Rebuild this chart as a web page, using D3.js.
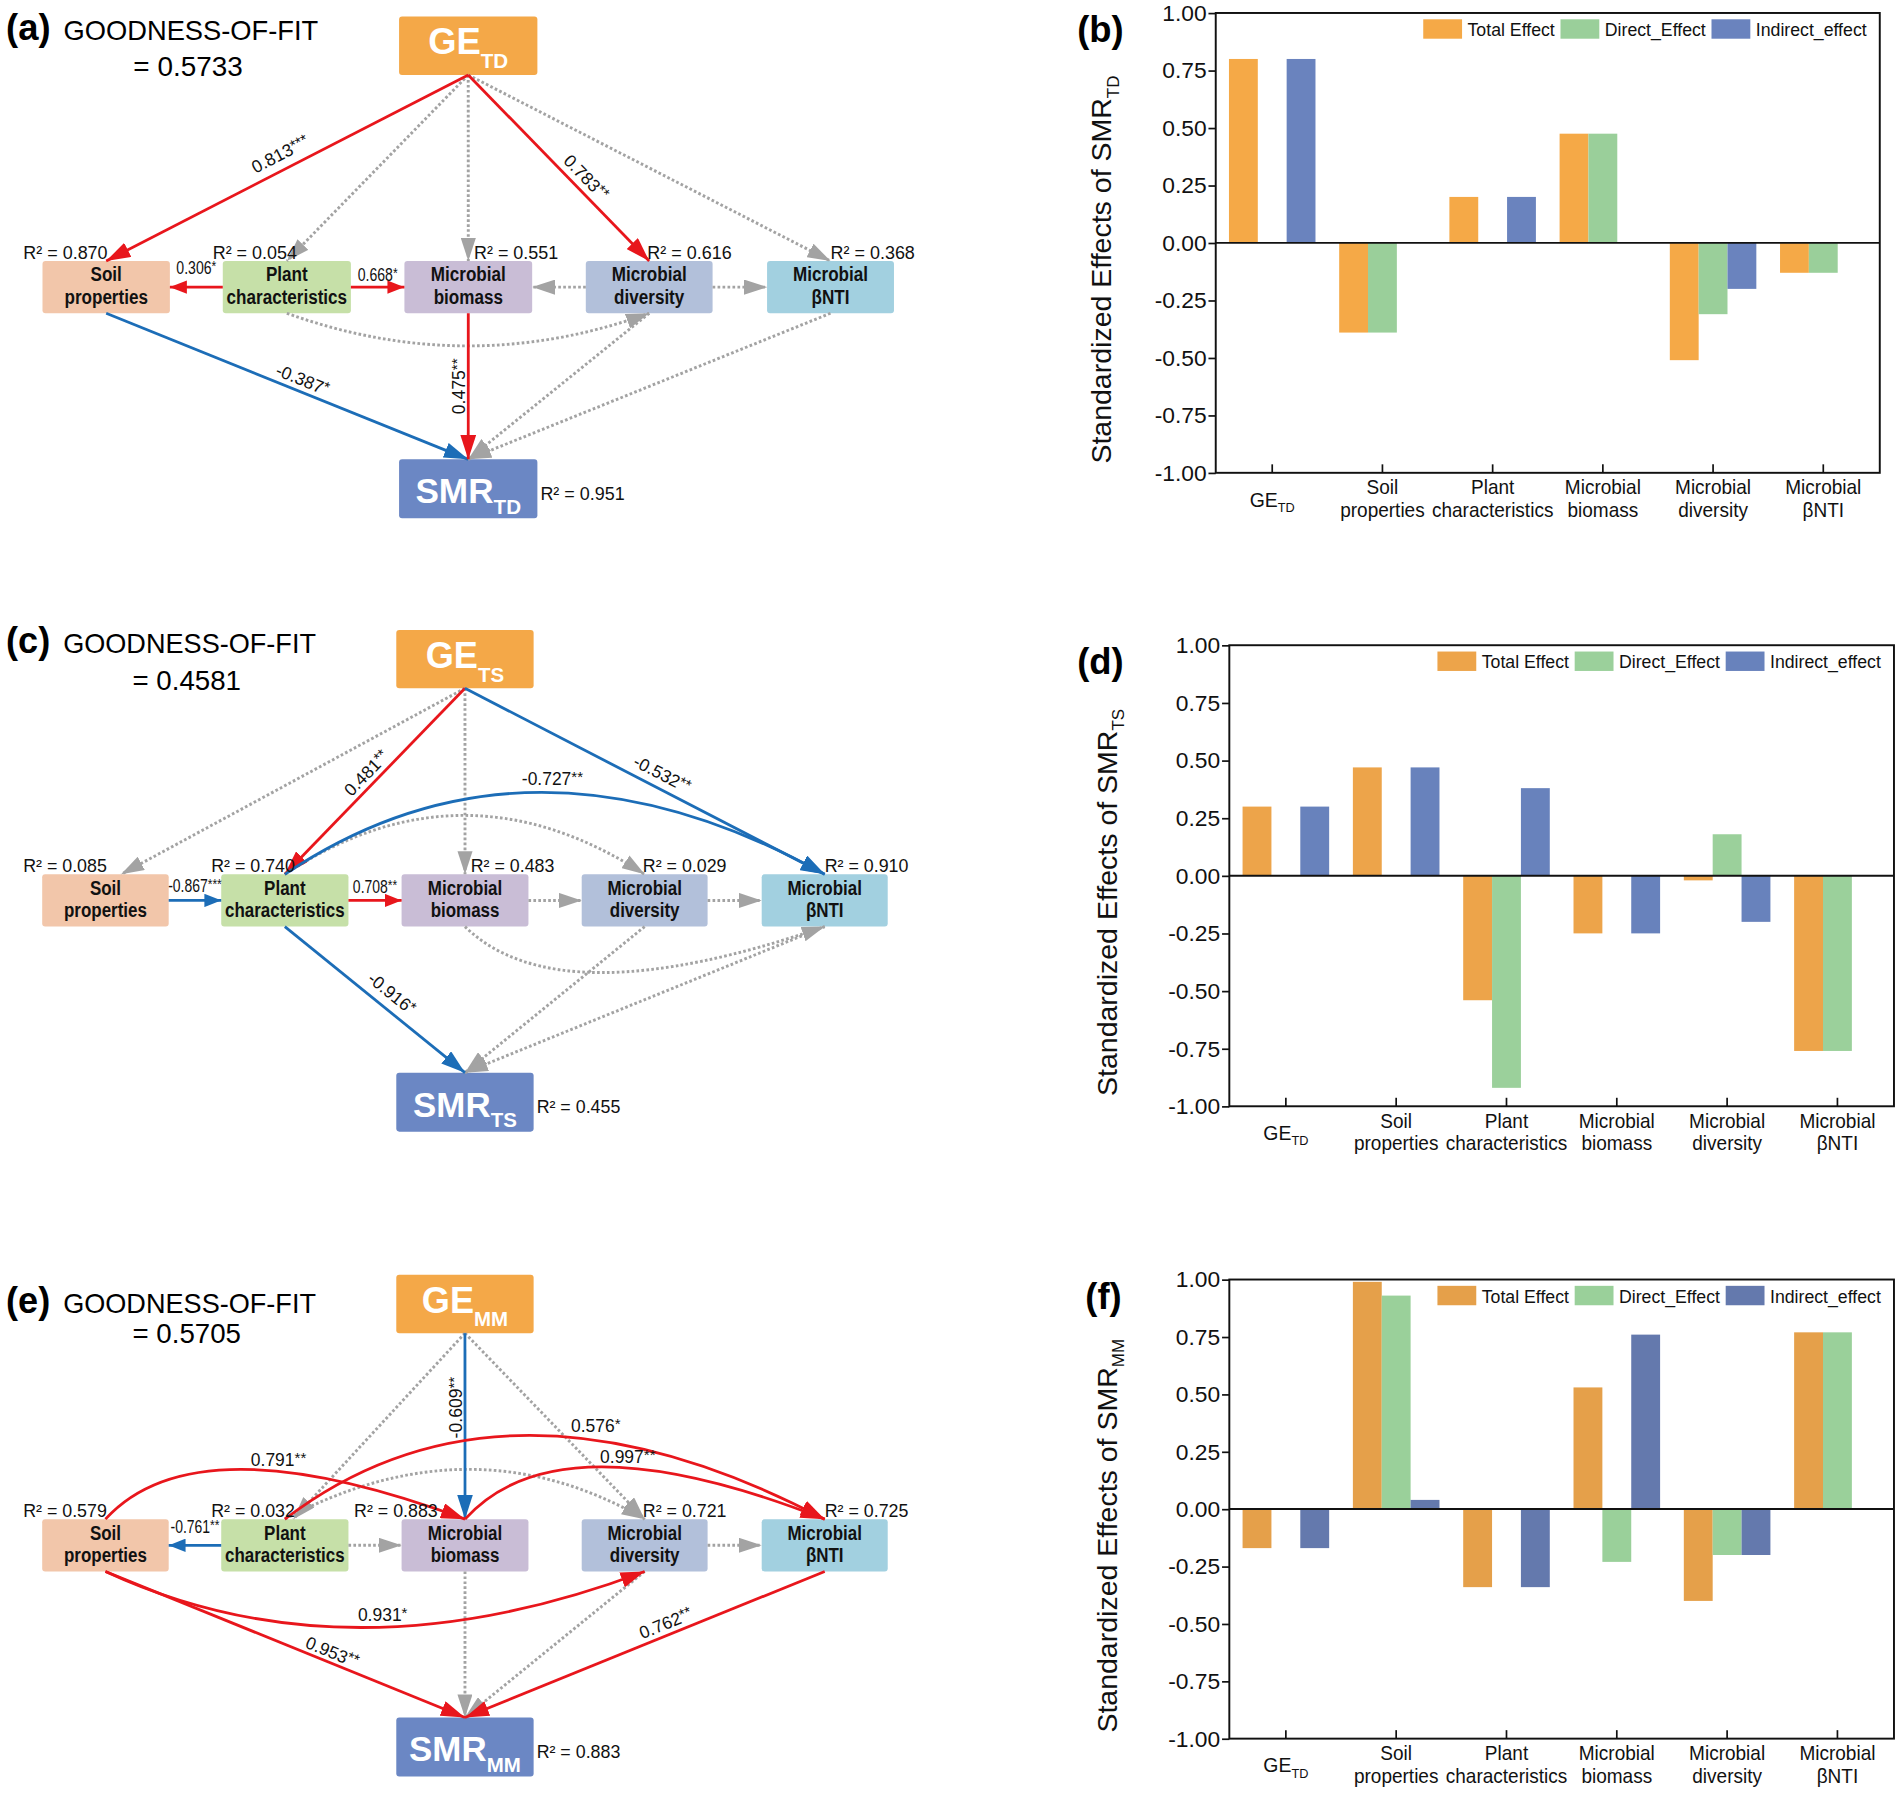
<!DOCTYPE html>
<html>
<head>
<meta charset="utf-8">
<title>SEM paths and standardized effects on SMR</title>
<script src="https://cdn.jsdelivr.net/npm/d3@7"></script>
<style>
  body { margin: 0; background: #fff; }
</style>
</head>
<body>
<script>
// ---------- bar chart data ----------
const categories = ["GE_TD", "Soil properties", "Plant characteristics", "Microbial biomass", "Microbial diversity", "Microbial βNTI"];
const seriesNames = ["Total Effect", "Direct_Effect", "Indirect_effect"];
const yTicks = [1.00, 0.75, 0.50, 0.25, 0.00, -0.25, -0.50, -0.75, -1.00];

// (b) effects on SMR_TD
const totalTD    = [0.80, -0.39, 0.20, 0.475, -0.51, -0.13];
const directTD   = [0, -0.39, 0, 0.475, -0.31, -0.13];
const indirectTD = [0.80, 0, 0.20, 0, -0.20, 0];
// (d) effects on SMR_TS
const totalTS    = [0.30, 0.47, -0.54, -0.25, -0.02, -0.76];
const directTS   = [0, 0, -0.92, 0, 0.18, -0.76];
const indirectTS = [0.30, 0.47, 0.38, -0.25, -0.20, 0];
// (f) effects on SMR_MM
const totalMM    = [-0.17, 0.99, -0.34, 0.53, -0.40, 0.77];
const directMM   = [0, 0.93, 0, -0.23, -0.20, 0.77];
const indirectMM = [-0.17, 0.04, -0.34, 0.76, -0.20, 0];

// ---------- SEM data ----------
const semNodes  = ["GE", "Soil", "Plant", "Bio", "Div", "NTI", "SMR"];
const nodeNames = ["GE", "Soil properties", "Plant characteristics", "Microbial biomass", "Microbial diversity", "Microbial βNTI", "SMR"];
const models = ["TD", "TS", "MM"];
const goodnessOfFit = [0.5733, 0.4581, 0.5705];
const r2TD = [null, 0.870, 0.054, 0.551, 0.616, 0.368, 0.951];
const r2TS = [null, 0.085, 0.740, 0.483, 0.029, 0.910, 0.455];
const r2MM = [null, 0.579, 0.032, 0.883, 0.721, 0.725, 0.883];

// from, to, standardized path coefficient (null = not significant), significance
const pathsTD = [
  ["GE", "Soil", 0.813, "***"], ["GE", "Plant", null], ["GE", "Bio", null],
  ["GE", "Div", 0.783, "**"], ["GE", "NTI", null],
  ["Plant", "Soil", 0.306, "*"], ["Plant", "Bio", 0.668, "*"],
  ["Div", "Bio", null], ["Div", "NTI", null], ["Plant", "Div", null],
  ["Soil", "SMR", -0.387, "*"], ["Bio", "SMR", 0.475, "**"],
  ["Div", "SMR", null], ["NTI", "SMR", null]
];
const pathsTS = [
  ["GE", "Soil", null], ["GE", "Plant", 0.481, "**"], ["GE", "Bio", null],
  ["GE", "NTI", -0.532, "**"], ["Plant", "NTI", -0.727, "**"], ["Plant", "Div", null],
  ["Soil", "Plant", -0.867, "***"], ["Plant", "Bio", 0.708, "**"],
  ["Bio", "Div", null], ["Div", "NTI", null],
  ["Plant", "SMR", -0.916, "*"], ["Bio", "NTI", null],
  ["Div", "SMR", null], ["NTI", "SMR", null]
];
const pathsMM = [
  ["GE", "Plant", null], ["GE", "Bio", -0.609, "**"], ["GE", "Div", null],
  ["Soil", "Bio", 0.791, "**"], ["Plant", "NTI", 0.576, "*"], ["Bio", "NTI", 0.997, "**"],
  ["Plant", "Div", null], ["Plant", "Soil", -0.761, "**"], ["Plant", "Bio", null],
  ["Div", "NTI", null], ["Soil", "Div", 0.931, "*"], ["Soil", "SMR", 0.953, "**"],
  ["Bio", "SMR", null], ["Div", "SMR", null], ["NTI", "SMR", 0.762, "**"]
];

// ---------- layout / style ----------
const FONT = "'Liberation Sans', Arial, Helvetica, sans-serif";
const RED = "#E8161C", BLUE = "#1C6DB7", GRAY = "#A3A3A3";
const VW = 1567.6, VH = 1481.1;

const svg = d3.select("body").append("svg")
  .attr("width", 1902).attr("height", 1797)
  .attr("viewBox", `0 0 ${VW} ${VH}`)
  .style("font-family", FONT)
  .style("background", "#fff");

// arrow heads
const defs = svg.append("defs");
[["red", RED], ["blue", BLUE], ["gray", GRAY]].forEach(([nm, col]) => {
  ["L", "S"].forEach(sz => {
    const [len, wid] = nm === "gray" ? [19, 12.5] : (sz === "L" ? [20, 13] : [14, 11]);
    defs.append("marker")
      .attr("id", `m-${nm}-${sz}`)
      .attr("markerUnits", "userSpaceOnUse")
      .attr("markerWidth", len).attr("markerHeight", wid)
      .attr("refX", len).attr("refY", wid / 2)
      .attr("orient", "auto")
      .append("path")
      .attr("d", `M0,0L${len},${wid / 2}L0,${wid}Z`)
      .attr("fill", col);
  });
});

// boxes of the path diagram (panel a coordinates)
const nodeBox = {
  GE:    { x: 328.9, y: 13.7,  w: 114,   h: 48.1 },
  Soil:  { x: 35,    y: 215.1, w: 105,   h: 43.1 },
  Plant: { x: 183.6, y: 215.1, w: 105.6, h: 43.1 },
  Bio:   { x: 333.3, y: 215.1, w: 105.3, h: 43.1 },
  Div:   { x: 482.8, y: 215.1, w: 104.5, h: 43.1 },
  NTI:   { x: 632.2, y: 215.1, w: 104.6, h: 43.1 },
  SMR:   { x: 328.9, y: 378.6, w: 114,   h: 48.6 }
};
const nodeFill = {
  GE: "#F4A848", Soil: "#F2C6AA", Plant: "#C6E0A8", Bio: "#C9BDD6",
  Div: "#B2C0DA", NTI: "#A2D0E0", SMR: "#6B87C4"
};
const rowNodes = ["Soil", "Plant", "Bio", "Div", "NTI"];

// curvature and label placement of the paths, per panel
const shapeTD = {
  "GE>Soil":    { lab: [0.5, 13] },
  "GE>Div":     { lab: [0.6, 11] },
  "Plant>Soil": { lab: [0.5, 16] },
  "Plant>Bio":  { lab: [0.5, 10.5] },
  "Plant>Div":  { s: "b", e: "b", c: [385.8, 312] },
  "Soil>SMR":   { lab: [0.53, 10] },
  "Bio>SMR":    { lab: [0.5, 8] }
};
const shapeTS = {
  "GE>Soil":    { ex: 13 },
  "GE>Plant":   { lab: [0.5, 10] },
  "GE>NTI":     { lab: [0.53, 12] },
  "Plant>NTI":  { s: "t", e: "t", c: [438.6, 80], lab: [0.52, 11], flat: true },
  "Plant>Div":  { s: "t", e: "t", c: [384.5, 118] },
  "Soil>Plant": { lab: [0.5, 12.5] },
  "Plant>Bio":  { lab: [0.5, 11] },
  "Plant>SMR":  { lab: [0.54, 13] },
  "Bio>NTI":    { s: "b", e: "b", c: [463.7, 334] }
};
const shapeMM = {
  "GE>Plant":   { ex: 7 },
  "GE>Bio":     { lab: [0.4, 8] },
  "Soil>Bio":   { s: "t", e: "t", c: [163, 133], lab: [0.6, 10], flat: true },
  "Plant>NTI":  { s: "t", e: "t", c: [418.6, 77], lab: [0.62, 12], flat: true },
  "Bio>NTI":    { s: "t", e: "t", c: [463.7, 129], lab: [0.57, 9], flat: true },
  "Plant>Div":  { s: "t", e: "t", c: [392, 133] },
  "Plant>Soil": { lab: [0.5, 15] },
  "Soil>Div":   { s: "b", e: "b", c: [288, 350.6], lab: [0.54, 10], flat: true },
  "Soil>SMR":   { lab: [0.62, 9] },
  "NTI>SMR":    { lab: [0.43, 10] }
};

const semPanels = [
  { tag: "(a)", m: 0, dy: 0,     sx: 1,     r2: r2TD, paths: pathsTD, shape: shapeTD, tY: [33, 63] },
  { tag: "(c)", m: 1, dy: 505.5, sx: 0.993, r2: r2TS, paths: pathsTS, shape: shapeTS, tY: [33, 63] },
  { tag: "(e)", m: 2, dy: 1037,  sx: 0.993, r2: r2MM, paths: pathsMM, shape: shapeMM, tY: [45, 70] }
];

const barPanels = [
  { tag: "(b)", tagX: 887.8, x0: 1002,   y0: 10.7,   w: 547.3, h: 379,   sub: "TD", titleX: 916,
    series: [totalTD, directTD, indirectTD], colors: ["#F5A947", "#9ACF9A", "#6A83BE"] },
  { tag: "(d)", tagX: 887.8, x0: 1013.2, y0: 531.8,  w: 547.8, h: 380,   sub: "TS", titleX: 920.5,
    series: [totalTS, directTS, indirectTS], colors: ["#EDA44A", "#9BD09B", "#6882BC"] },
  { tag: "(f)", tagX: 894.5, x0: 1013.2, y0: 1054.6, w: 547.8, h: 378.4, sub: "MM", titleX: 920.5,
    series: [totalMM, directMM, indirectMM], colors: ["#E5A04A", "#9AD09A", "#6479AD"] }
];

const fmtCoef = v => (v < 0 ? "-" : "") + Math.abs(v).toFixed(3);

function anchor(key, side, ex) {
  const b = nodeBox[key];
  const off = ex || 0;
  if (side === "t") return [b.x + b.w / 2 + off, b.y];
  if (side === "b") return [b.x + b.w / 2 + off, b.y + b.h];
  if (side === "l") return [b.x, b.y + b.h / 2];
  return [b.x + b.w, b.y + b.h / 2];
}

// ---------- path diagrams ----------
function drawSEM(p) {
  const g = svg.append("g").attr("transform", `translate(0,${p.dy}) scale(${p.sx},1)`);
  const boxLayer = g.append("g");
  const edgeLayer = g.append("g");
  const textLayer = g.append("g");
  const sub = models[p.m];

  // title
  textLayer.append("text").attr("x", 5).attr("y", p.tY[0])
    .attr("font-size", 30).attr("font-weight", "bold").text(p.tag);
  textLayer.append("text").attr("x", 52.4).attr("y", p.tY[0])
    .attr("font-size", 22.5).text("GOODNESS-OF-FIT");
  textLayer.append("text").attr("x", 109.9).attr("y", p.tY[1])
    .attr("font-size", 23).text("= " + goodnessOfFit[p.m].toFixed(4));

  // boxes
  semNodes.forEach((n, i) => {
    const b = nodeBox[n];
    boxLayer.append("rect")
      .attr("x", b.x).attr("y", b.y).attr("width", b.w).attr("height", b.h)
      .attr("rx", 2.5).attr("fill", nodeFill[n]);
    if (n === "GE" || n === "SMR") {
      const big = n === "GE" ? [30, 31.1, 11.5] : [29, 36.2, 8.8];
      const t = boxLayer.append("text")
        .attr("x", b.x + b.w / 2).attr("y", b.y + big[1])
        .attr("text-anchor", "middle").attr("fill", "#fff").attr("font-weight", "bold")
        .attr("font-size", big[0]).text(nodeNames[i]);
      t.append("tspan").attr("font-size", 17).attr("dy", big[2]).text(sub);
    } else {
      nodeNames[i].split(" ").forEach((line, li) => {
        boxLayer.append("text")
          .attr("transform", `translate(${b.x + b.w / 2},${b.y + 16.8 + li * 18.6}) scale(0.88,1)`)
          .attr("text-anchor", "middle").attr("font-weight", "bold")
          .attr("font-size", 16).attr("fill", "#111").text(line);
      });
    }
    // R2
    const v = p.r2[i];
    if (v == null) return;
    let x, y = b.y - 2, anc = "end";
    if (n === "Soil") { x = b.x - 15.8; anc = "start"; }
    else if (n === "Plant") { x = b.x - 8.3; anc = "start"; }
    else if (n === "Bio") { x = p.m === 2 ? b.x + 30 : b.x + b.w + 21.5; }
    else if (n === "Div") { x = b.x + b.w + 15.7; }
    else if (n === "NTI") { x = b.x + b.w + 17.2; }
    else { x = b.x + b.w + 2.5; y = b.y + 33.5; anc = "start"; }
    textLayer.append("text").attr("x", x).attr("y", y)
      .attr("text-anchor", anc).attr("font-size", 14.8).attr("fill", "#111")
      .text("R² = " + v.toFixed(3));
  });

  // paths: non-significant first
  const ordered = p.paths.filter(d => d[2] == null).concat(p.paths.filter(d => d[2] != null));
  ordered.forEach(([from, to, coef, stars]) => {
    const sh = p.shape[`${from}>${to}`] || {};
    let s = sh.s, e = sh.e;
    const inRow = rowNodes.includes(from) && rowNodes.includes(to);
    if (!s) {
      if (inRow) {
        const left = nodeBox[from].x < nodeBox[to].x;
        s = left ? "r" : "l"; e = left ? "l" : "r";
      } else { s = "b"; e = "t"; }
    }
    const p0 = anchor(from, s), p2 = anchor(to, e, sh.ex);
    const c = sh.c || [(p0[0] + p2[0]) / 2, (p0[1] + p2[1]) / 2];
    const path = d3.path();
    path.moveTo(p0[0], p0[1]);
    path.quadraticCurveTo(c[0], c[1], p2[0], p2[1]);

    const col = coef == null ? "gray" : (coef > 0 ? "red" : "blue");
    const horiz = inRow && !sh.c;
    const el = edgeLayer.append("path")
      .attr("d", path.toString())
      .attr("fill", "none")
      .attr("stroke", col === "gray" ? GRAY : (col === "red" ? RED : BLUE))
      .attr("stroke-width", col === "gray" ? 2.4 : 2.3)
      .attr("marker-end", `url(#m-${col}-${horiz ? "S" : "L"})`);
    if (col === "gray") el.attr("stroke-dasharray", "2.2,1.9");

    if (coef == null || !sh.lab) return;
    const [t, dist] = sh.lab;
    const pt = [
      (1 - t) * (1 - t) * p0[0] + 2 * t * (1 - t) * c[0] + t * t * p2[0],
      (1 - t) * (1 - t) * p0[1] + 2 * t * (1 - t) * c[1] + t * t * p2[1]
    ];
    let a = 0, pos;
    if (sh.flat) {
      pos = [pt[0], pt[1] - dist];
    } else {
      const tx = 2 * (1 - t) * (c[0] - p0[0]) + 2 * t * (p2[0] - c[0]);
      const ty = 2 * (1 - t) * (c[1] - p0[1]) + 2 * t * (p2[1] - c[1]);
      a = Math.atan2(ty, tx) * 180 / Math.PI;
      if (a > 89.9) a -= 180;
      if (a < -90.1) a += 180;
      const r = a * Math.PI / 180;
      pos = [pt[0] + dist * Math.sin(r), pt[1] - dist * Math.cos(r)];
    }
    // short labels between neighbouring boxes are squeezed to fit the gap
    const sq = horiz ? 0.8 : 1;
    const lab = textLayer.append("text")
      .attr("transform", `translate(${pos[0]},${pos[1]}) rotate(${a}) scale(${sq},1)`)
      .attr("text-anchor", "middle").attr("dy", "0.36em")
      .attr("font-size", 14.5).attr("fill", "#111")
      .text(fmtCoef(coef));
    lab.append("tspan").attr("font-size", 12.5).attr("dy", "-0.2em").text(stars);
  });
}

// ---------- bar charts ----------
function drawBars(p) {
  const g = svg.append("g");
  const x = d3.scaleBand().domain(categories).range([p.x0, p.x0 + p.w])
    .paddingInner(0.215).paddingOuter(0.12);
  const xs = d3.scaleBand().domain(seriesNames).range([0, x.bandwidth()]);
  const y = d3.scaleLinear().domain([-1, 1]).range([p.y0 + p.h, p.y0]);

  p.series.forEach((vals, si) => {
    g.append("g").selectAll("rect")
      .data(categories.map((c, i) => ({ c, v: vals[i] })).filter(d => d.v !== 0))
      .join("rect")
      .attr("x", d => x(d.c) + xs(seriesNames[si]))
      .attr("width", xs.bandwidth())
      .attr("y", d => y(Math.max(0, d.v)))
      .attr("height", d => Math.abs(y(d.v) - y(0)))
      .attr("fill", p.colors[si]);
  });

  // zero line and frame
  g.append("line")
    .attr("x1", p.x0).attr("x2", p.x0 + p.w).attr("y1", y(0)).attr("y2", y(0))
    .attr("stroke", "#111").attr("stroke-width", 1.6);
  g.append("rect")
    .attr("x", p.x0).attr("y", p.y0).attr("width", p.w).attr("height", p.h)
    .attr("fill", "none").attr("stroke", "#111").attr("stroke-width", 1.6);

  // y axis
  const ya = g.append("g").attr("transform", `translate(${p.x0},0)`)
    .call(d3.axisLeft(y).tickValues(yTicks).tickFormat(d => d.toFixed(2)).tickSize(6).tickPadding(1.5));
  ya.attr("font-family", FONT).attr("font-size", 18.8);
  ya.select(".domain").remove();
  ya.selectAll("line").attr("stroke", "#111").attr("stroke-width", 1.4);
  ya.selectAll("text").attr("fill", "#111");

  // x ticks point inward
  const xa = g.append("g").attr("transform", `translate(0,${p.y0 + p.h})`)
    .call(d3.axisBottom(x).tickSizeInner(-7).tickSizeOuter(0).tickFormat(""));
  xa.select(".domain").remove();
  xa.selectAll("line").attr("stroke", "#111").attr("stroke-width", 1.4);

  // category labels
  categories.forEach(c => {
    const cx = x(c) + x.bandwidth() / 2;
    if (c.includes("_")) {
      const [main, s] = c.split("_");
      const t = g.append("text").attr("x", cx).attr("y", p.y0 + p.h + 27.8)
        .attr("text-anchor", "middle").attr("font-size", 16).attr("fill", "#111").text(main);
      t.append("tspan").attr("font-size", 10.5).attr("dy", 4.5).text(s);
    } else {
      c.split(" ").forEach((line, li) => {
        g.append("text")
          .attr("transform", `translate(${cx},${p.y0 + p.h + 17.8 + li * 18.5}) scale(0.95,1)`)
          .attr("text-anchor", "middle").attr("font-size", 16.5).attr("fill", "#111").text(line);
      });
    }
  });

  // y title
  const tt = g.append("text")
    .attr("transform", `translate(${p.titleX},${p.y0 + p.h / 2 + 22}) rotate(-90)`)
    .attr("text-anchor", "middle").attr("font-size", 23.5).attr("fill", "#111")
    .text("Standardized Effects of SMR");
  tt.append("tspan").attr("font-size", 14).attr("dy", 6).text(p.sub);

  // panel tag
  g.append("text").attr("x", p.tagX).attr("y", p.y0 + 24)
    .attr("font-size", 30).attr("font-weight", "bold").text(p.tag);

  // legend
  const lg = g.append("g");
  let cx = 0;
  seriesNames.forEach((s, i) => {
    lg.append("rect").attr("x", cx).attr("y", 0).attr("width", 32).attr("height", 16)
      .attr("fill", p.colors[i]);
    const t = lg.append("text").attr("x", cx + 36.5).attr("y", 13.8)
      .attr("font-size", 14.6).attr("fill", "#111").text(s);
    cx += 36.5 + t.node().getComputedTextLength() + 4.7;
  });
  lg.attr("transform", `translate(${p.x0 + p.w - 10.8 - (cx - 4.7)},${p.y0 + 5.2})`);
}

semPanels.forEach(drawSEM);
barPanels.forEach(drawBars);
</script>
</body>
</html>
